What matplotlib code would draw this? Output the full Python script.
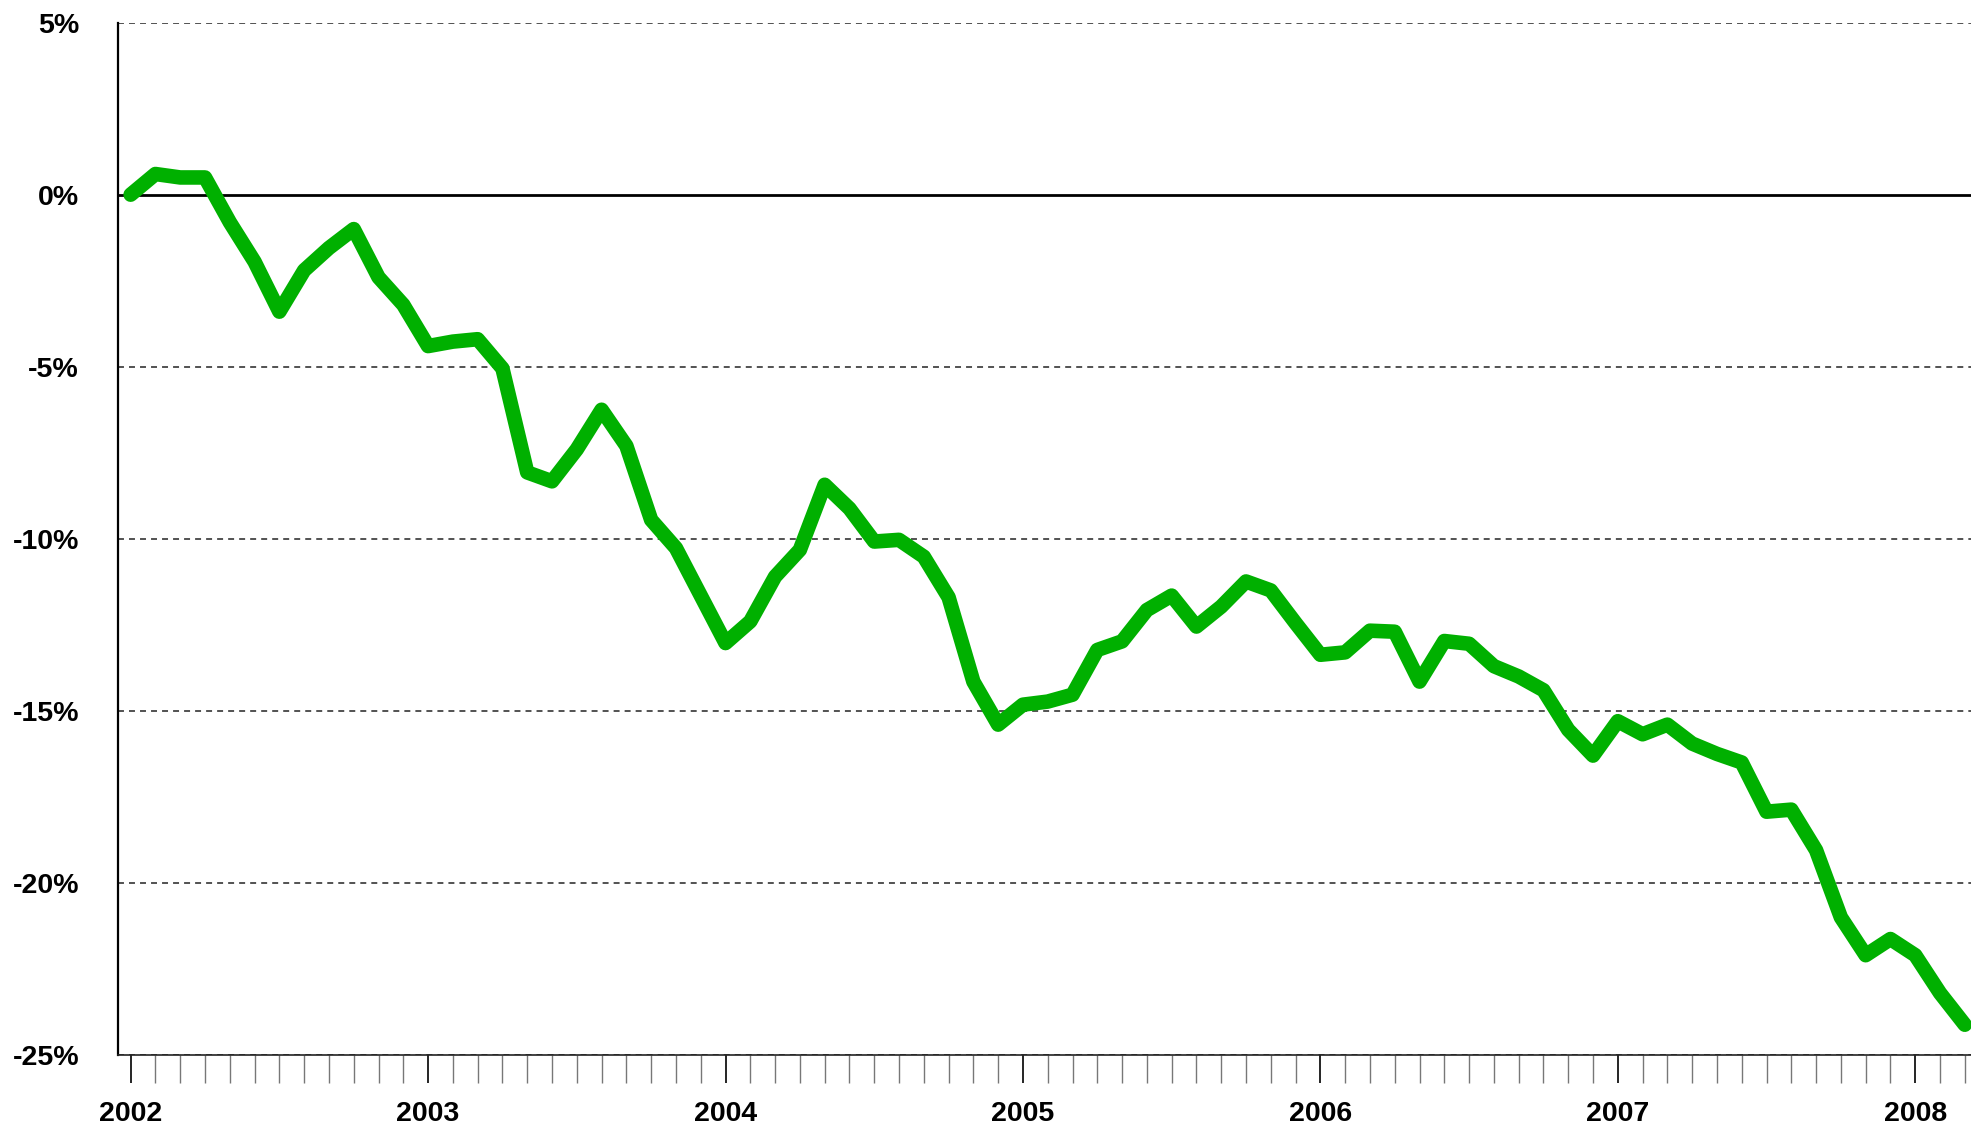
import matplotlib
matplotlib.use("Agg")
import matplotlib.pyplot as plt
from matplotlib.ticker import FixedLocator, FuncFormatter
import numpy as np

plt.rcParams['font.family'] = ['Liberation Sans', 'DejaVu Sans']

# Monthly series, Jan 2002 .. Mar 2008 (percent)
values = [
    0.0, 0.6, 0.5, 0.5, -0.8, -1.95, -3.4, -2.2, -1.55, -1.0, -2.4, -3.2,
    -4.4, -4.27, -4.2, -5.05, -8.07, -8.33, -7.4, -6.25, -7.3, -9.45, -10.27, -11.65,
    -13.03, -12.4, -11.1, -10.32, -8.43, -9.12, -10.08, -10.03, -10.52, -11.7, -14.15, -15.4,
    -14.82, -14.73, -14.53, -13.23, -12.98, -12.07, -11.65, -12.55, -11.97, -11.24, -11.5, -12.45,
    -13.37, -13.3, -12.67, -12.7, -14.15, -12.97, -13.05, -13.7, -14.0, -14.4, -15.55, -16.3,
    -15.3, -15.68, -15.4, -15.95, -16.25, -16.5, -17.93, -17.87, -19.05, -21.0, -22.1, -21.63,
    -22.1, -23.2, -24.12,
]
year_labels = ["2002", "2003", "2004", "2005", "2006", "2007", "2008"]
y_ticks = [5, 0, -5, -10, -15, -20, -25]

months = np.arange(len(values))

fig = plt.figure(figsize=(19.71, 11.26), dpi=100)
ax = fig.add_axes([118/1971, 1 - 1055/1126, 1 - 118/1971, (1055 - 22.6)/1126])

ax.set_xlim(-0.51, 74.25)
ax.set_ylim(-25, 5)

# gridlines
for yv in y_ticks:
    if yv == 0:
        ax.axhline(yv, color='black', lw=2.0, zorder=2)
    else:
        ax.axhline(yv, color='#444444', lw=1.3, ls=(0, (3.3, 2.8)), zorder=1)

ax.plot(months, values, color='#00B000', lw=10.5, solid_joinstyle='round',
        solid_capstyle='round', zorder=3, clip_on=False)

for s in ['top', 'right']:
    ax.spines[s].set_visible(False)
ax.spines['left'].set_linewidth(1.6)
ax.spines['bottom'].set_linewidth(1.2)
ax.spines['bottom'].set_color('#222222')

ax.yaxis.set_major_locator(FixedLocator(y_ticks))
ax.yaxis.set_major_formatter(FuncFormatter(lambda v, p: f"{int(v)}%"))
ax.tick_params(axis='y', length=0, pad=28, labelsize=20.5)
for lab in ax.get_yticklabels():
    lab.set_fontweight('bold')

major_x = [12 * i for i in range(len(year_labels))]
minor_x = [m for m in range(len(values)) if m % 12 != 0]
ax.xaxis.set_major_locator(FixedLocator(major_x))
ax.xaxis.set_minor_locator(FixedLocator(minor_x))
ax.set_xticklabels(year_labels)
ax.tick_params(axis='x', which='major', direction='out', length=20, width=1.2,
               color='black', pad=13, labelsize=20.5)
ax.tick_params(axis='x', which='minor', direction='out', length=20, width=1.0,
               color='#777777')
for lab in ax.get_xticklabels():
    lab.set_fontweight('bold')

fig.savefig('out.png', dpi=100)
